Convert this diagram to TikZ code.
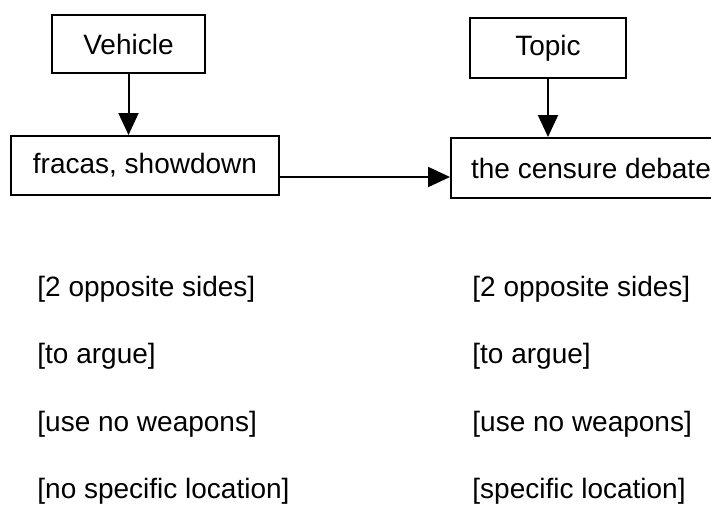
\documentclass[tikz,border=0pt]{standalone}
\usepackage{fontspec}
\setmainfont{Liberation Sans}
\usetikzlibrary{positioning,arrows.meta}

\begin{document}
\begin{tikzpicture}[
    x=0.5pt, y=-0.5pt,
    every node/.style={font=\fontsize{14}{17}\selectfont},
    frame/.style={draw, line width=1pt, rectangle, inner sep=0pt, align=center},
    feature/.style={anchor=base west, inner sep=0pt},
    link/.style={line width=1pt, -{Triangle[length=11pt,width=10pt]}},
    node distance=33.75pt
]
    \clip (0,0) rectangle (711,508);
    \node [frame, minimum width=76.5pt, minimum height=29pt] (vehicle) at (128.5,44) {Vehicle};
    \node [frame, minimum width=134pt, minimum height=29.5pt] (fracas) at (145,165.5) {fracas, showdown};
    \node [frame, minimum width=78pt, minimum height=30pt] (topic) at (548,48) {Topic};
    \node [frame, minimum width=140pt, minimum height=30pt, anchor=west] (debate) at (450,168) {the censure debate};

    \draw [link] (vehicle.south) -- (vehicle.south |- fracas.north);
    \draw [link] (topic.south) -- (topic.south |- debate.north);
    \draw [link] ([yshift=-5.75pt]fracas.east) -- ([yshift=-5.75pt]fracas.east -| debate.west);

    % vehicle features
    \node [feature] (vsides) at (37,296) {[2 opposite sides]};
    \node [feature, below=of vsides.base west, anchor=base west] (vargue) {[to argue]};
    \node [feature, below=of vargue.base west, anchor=base west] (vweapons) {[use no weapons]};
    \node [feature, below=of vweapons.base west, anchor=base west] (vplace) {[no specific location]};

    % topic features
    \node [feature] (tsides) at (472,296) {[2 opposite sides]};
    \node [feature, below=of tsides.base west, anchor=base west] (targue) {[to argue]};
    \node [feature, below=of targue.base west, anchor=base west] (tweapons) {[use no weapons]};
    \node [feature, below=of tweapons.base west, anchor=base west] (tplace) {[specific location]};
\end{tikzpicture}
\end{document}
